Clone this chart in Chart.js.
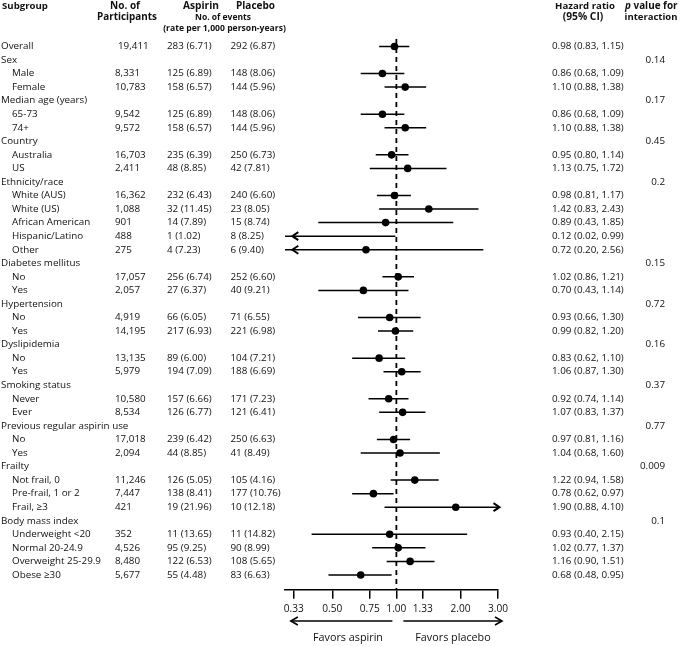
<!DOCTYPE html>
<html>
<head>
<meta charset="utf-8">
<script src="https://cdn.jsdelivr.net/npm/chart.js@4.4.1/dist/chart.umd.min.js"></script>
<style>
  html, body { margin: 0; padding: 0; background: #fff; }
  #wrap { width: 680px; height: 646px; }
</style>
</head>
<body>
<div id="wrap"><canvas id="c" width="680" height="646"></canvas></div>
<script>
// ---------- DATA ----------
const subgroups = ['Overall','Sex','Male','Female','Median age (years)','65-73','74+','Country','Australia','US',
  'Ethnicity/race','White (AUS)','White (US)','African American','Hispanic/Latino','Other',
  'Diabetes mellitus','No','Yes','Hypertension','No','Yes','Dyslipidemia','No','Yes',
  'Smoking status','Never','Ever','Previous regular aspirin use','No','Yes',
  'Frailty','Not frail, 0','Pre-frail, 1 or 2','Frail, \u22653',
  'Body mass index','Underweight <20','Normal 20-24.9','Overweight 25-29.9','Obese \u226530'];
const indented = [0,0,1,1,0,1,1,0,1,1, 0,1,1,1,1,1, 0,1,1,0,1,1,0,1,1, 0,1,1,0,1,1, 0,1,1,1, 0,1,1,1,1];
const participants = ['19,411','','8,331','10,783','','9,542','9,572','','16,703','2,411',
  '','16,362','1,088','901','488','275','','17,057','2,057','','4,919','14,195','','13,135','5,979',
  '','10,580','8,534','','17,018','2,094','','11,246','7,447','421','','352','4,526','8,480','5,677'];
const aspirinEvents = ['283 (6.71)','','125 (6.89)','158 (6.57)','','125 (6.89)','158 (6.57)','','235 (6.39)','48 (8.85)',
  '','232 (6.43)','32 (11.45)','14 (7.89)','1 (1.02)','4 (7.23)','','256 (6.74)','27 (6.37)','','66 (6.05)','217 (6.93)','','89 (6.00)','194 (7.09)',
  '','157 (6.66)','126 (6.77)','','239 (6.42)','44 (8.85)','','126 (5.05)','138 (8.41)','19 (21.96)','','11 (13.65)','95 (9.25)','122 (6.53)','55 (4.48)'];
const placeboEvents = ['292 (6.87)','','148 (8.06)','144 (5.96)','','148 (8.06)','144 (5.96)','','250 (6.73)','42 (7.81)',
  '','240 (6.60)','23 (8.05)','15 (8.74)','8 (8.25)','6 (9.40)','','252 (6.60)','40 (9.21)','','71 (6.55)','221 (6.98)','','104 (7.21)','188 (6.69)',
  '','171 (7.23)','121 (6.41)','','250 (6.63)','41 (8.49)','','105 (4.16)','177 (10.76)','10 (12.18)','','11 (14.82)','90 (8.99)','108 (5.65)','83 (6.63)'];
const hazardRatio = [0.98,null,0.86,1.10,null,0.86,1.10,null,0.95,1.13,null,0.98,1.42,0.89,0.12,0.72,null,1.02,0.70,null,0.93,0.99,null,0.83,1.06,null,0.92,1.07,null,0.97,1.04,null,1.22,0.78,1.90,null,0.93,1.02,1.16,0.68];
const ciLower = [0.83,null,0.68,0.88,null,0.68,0.88,null,0.80,0.75,null,0.81,0.83,0.43,0.02,0.20,null,0.86,0.43,null,0.66,0.82,null,0.62,0.87,null,0.74,0.83,null,0.81,0.68,null,0.94,0.62,0.88,null,0.40,0.77,0.90,0.48];
const ciUpper = [1.15,null,1.09,1.38,null,1.09,1.38,null,1.14,1.72,null,1.17,2.43,1.85,0.99,2.56,null,1.21,1.14,null,1.30,1.20,null,1.10,1.30,null,1.14,1.37,null,1.16,1.60,null,1.58,0.97,4.10,null,2.15,1.37,1.51,0.95];
const pInteraction = ['', '0.14','','','0.17','','','0.45','','','0.2','','','','','','0.15','','','0.72','','','0.16','','','0.37','','','0.77','','','0.009','','','','0.1','','','',''];
const xTicks = [0.33, 0.50, 0.75, 1.00, 1.33, 2.00, 3.00];
const X_MIN = 0.33, X_MAX = 3.00;

// ---------- BUILD DATASETS ----------
const pointData = [];
const ciData = [];
hazardRatio.forEach((v, i) => {
  if (v === null) return;
  if (v >= X_MIN && v <= X_MAX) pointData.push({x: v, y: i});
  ciData.push({x: ciLower[i], y: i}, {x: ciUpper[i], y: i}, {x: null, y: null});
});

const FAM = '"Open Sans", "Noto Sans", sans-serif';
const TXT = '#111';

// font size that makes a string a given width
const mctx = document.createElement('canvas').getContext('2d');
function fitSize(text, width, weight) {
  mctx.font = (weight || '') + ' 20px ' + FAM;
  return 20 * width / mctx.measureText(text).width;
}
const ROW_SIZE = fitSize('Hispanic/Latino', 71.3, '');
const TICK_SIZE = fitSize('0.33', 20, '');
const FAV_SIZE = fitSize('Favors aspirin', 70, '');

function headerText(ctx, text, cx, cy, width, style) {
  const s = fitSize(text, width, style);
  ctx.font = style + ' ' + s.toFixed(2) + 'px ' + FAM;
  ctx.fillText(text, cx, cy);
}

const textPlugin = {
  id: 'forestText',
  afterDraw(chart) {
    const ctx = chart.ctx;
    const ys = chart.scales.y, xs = chart.scales.x;
    ctx.save();
    ctx.fillStyle = TXT;
    ctx.textBaseline = 'middle';
    // headers
    ctx.textAlign = 'left';
    headerText(ctx, 'Subgroup', 2, 6, 46, 'bold');
    ctx.textAlign = 'center';
    headerText(ctx, 'No. of', 125, 6, 30, 'bold');
    headerText(ctx, 'Participants', 127, 17.5, 60, 'bold');
    headerText(ctx, 'Aspirin', 201, 6, 36, 'bold');
    headerText(ctx, 'Placebo', 255.5, 6, 39, 'bold');
    headerText(ctx, 'No. of events', 223, 18, 56, 'bold');
    headerText(ctx, '(rate per 1,000 person-years)', 224.5, 29, 123, 'bold');
    headerText(ctx, 'Hazard ratio', 585, 6, 60, 'bold');
    headerText(ctx, '(95% CI)', 583, 17.5, 40.6, 'bold');
    headerText(ctx, 'interaction', 651, 17.5, 53, 'bold');
    // "p value for" with italic p
    const hs = fitSize('p value for', 53, 'bold');
    ctx.textAlign = 'left';
    ctx.font = 'italic bold ' + hs.toFixed(2) + 'px ' + FAM;
    ctx.fillText('p', 625, 6);
    const pw = ctx.measureText('p').width;
    ctx.font = 'bold ' + hs.toFixed(2) + 'px ' + FAM;
    ctx.fillText(' value for', 625 + pw, 6);

    // rows
    ctx.font = ROW_SIZE.toFixed(2) + 'px ' + FAM;
    subgroups.forEach((s, i) => {
      const y = ys.getPixelForValue(i);
      ctx.textAlign = 'left';
      ctx.fillText(s, indented[i] ? 12 : 1, y);
      if (participants[i]) ctx.fillText(participants[i], i === 0 ? 118 : 115, y);
      if (aspirinEvents[i]) ctx.fillText(aspirinEvents[i], 167, y);
      if (placeboEvents[i]) ctx.fillText(placeboEvents[i], 230.5, y);
      if (hazardRatio[i] !== null) {
        ctx.fillText(hazardRatio[i].toFixed(2) + ' (' + ciLower[i].toFixed(2) + ', ' + ciUpper[i].toFixed(2) + ')', 552, y);
      }
      if (pInteraction[i]) {
        ctx.textAlign = 'right';
        ctx.fillText(pInteraction[i], 665, y);
      }
    });

    // arrowheads for CIs beyond the axis
    ctx.strokeStyle = '#000';
    ctx.lineWidth = 2;
    hazardRatio.forEach((v, i) => {
      if (v === null) return;
      const y = ys.getPixelForValue(i);
      if (ciLower[i] < X_MIN) {
        const tip = xs.getPixelForValue(X_MIN) - 1.5;
        ctx.beginPath();
        ctx.moveTo(tip + 6, y - 4); ctx.lineTo(tip, y); ctx.lineTo(tip + 6, y + 4);
        ctx.stroke();
      }
      if (ciUpper[i] > X_MAX) {
        const tip = xs.getPixelForValue(X_MAX) + 1.5;
        ctx.beginPath();
        ctx.moveTo(tip - 6, y - 4); ctx.lineTo(tip, y); ctx.lineTo(tip - 6, y + 4);
        ctx.stroke();
      }
    });

    // favors arrows
    const ay = 621;
    const x0 = xs.getPixelForValue(X_MIN), x1 = xs.getPixelForValue(1), x3 = xs.getPixelForValue(X_MAX);
    ctx.lineWidth = 1.6;
    ctx.beginPath();
    ctx.moveTo(x1 - 4, ay); ctx.lineTo(x0 - 3, ay);
    ctx.stroke();
    ctx.beginPath();
    ctx.moveTo(x0 + 4, ay - 4); ctx.lineTo(x0 - 3, ay); ctx.lineTo(x0 + 4, ay + 4);
    ctx.stroke();
    ctx.beginPath();
    ctx.moveTo(x1 + 7, ay); ctx.lineTo(x3 + 4, ay);
    ctx.stroke();
    ctx.beginPath();
    ctx.moveTo(x3 - 3, ay - 4); ctx.lineTo(x3 + 4, ay); ctx.lineTo(x3 - 3, ay + 4);
    ctx.stroke();
    ctx.font = FAV_SIZE.toFixed(2) + 'px ' + FAM;
    ctx.textAlign = 'center';
    ctx.fillStyle = TXT;
    ctx.fillText('Favors aspirin', 348, 638);
    ctx.fillText('Favors placebo', 453, 638);
    ctx.restore();
  }
};

new Chart(document.getElementById('c'), {
  type: 'scatter',
  data: {
    datasets: [
      { label: 'HR', data: pointData, order: 0, pointRadius: 3.8, pointHoverRadius: 3.8,
        backgroundColor: '#000', borderColor: '#000', borderWidth: 0 },
      { type: 'line', label: 'CI', data: ciData, order: 1, showLine: true, spanGaps: false,
        borderColor: '#000', borderWidth: 1.5, pointRadius: 0, fill: false, tension: 0 },
      { type: 'line', label: 'ref', data: [{x: 1, y: -0.55}, {x: 1, y: 40.1}], order: 2,
        borderColor: '#000', borderWidth: 1.8, borderDash: [5, 4], pointRadius: 0, fill: false }
    ]
  },
  options: {
    responsive: false,
    devicePixelRatio: 1,
    animation: false,
    events: [],
    layout: { padding: { left: 285, right: 182, top: 39, bottom: 27 } },
    plugins: { legend: { display: false }, tooltip: { enabled: false } },
    scales: {
      x: {
        type: 'logarithmic', min: X_MIN, max: X_MAX,
        afterBuildTicks: (scale) => { scale.ticks = xTicks.map(v => ({ value: v })); },
        ticks: { callback: (v) => Number(v).toFixed(2), color: TXT, font: { family: FAM, size: TICK_SIZE },
                 padding: 4, maxRotation: 0, autoSkip: false },
        grid: { drawOnChartArea: false, drawTicks: true, tickLength: 9, color: '#000', lineWidth: 1.5 },
        border: { display: true, color: '#000', width: 1.5 }
      },
      y: { type: 'linear', reverse: true, min: -0.55, max: 40.1, display: false }
    }
  },
  plugins: [textPlugin]
});
</script>
</body>
</html>
